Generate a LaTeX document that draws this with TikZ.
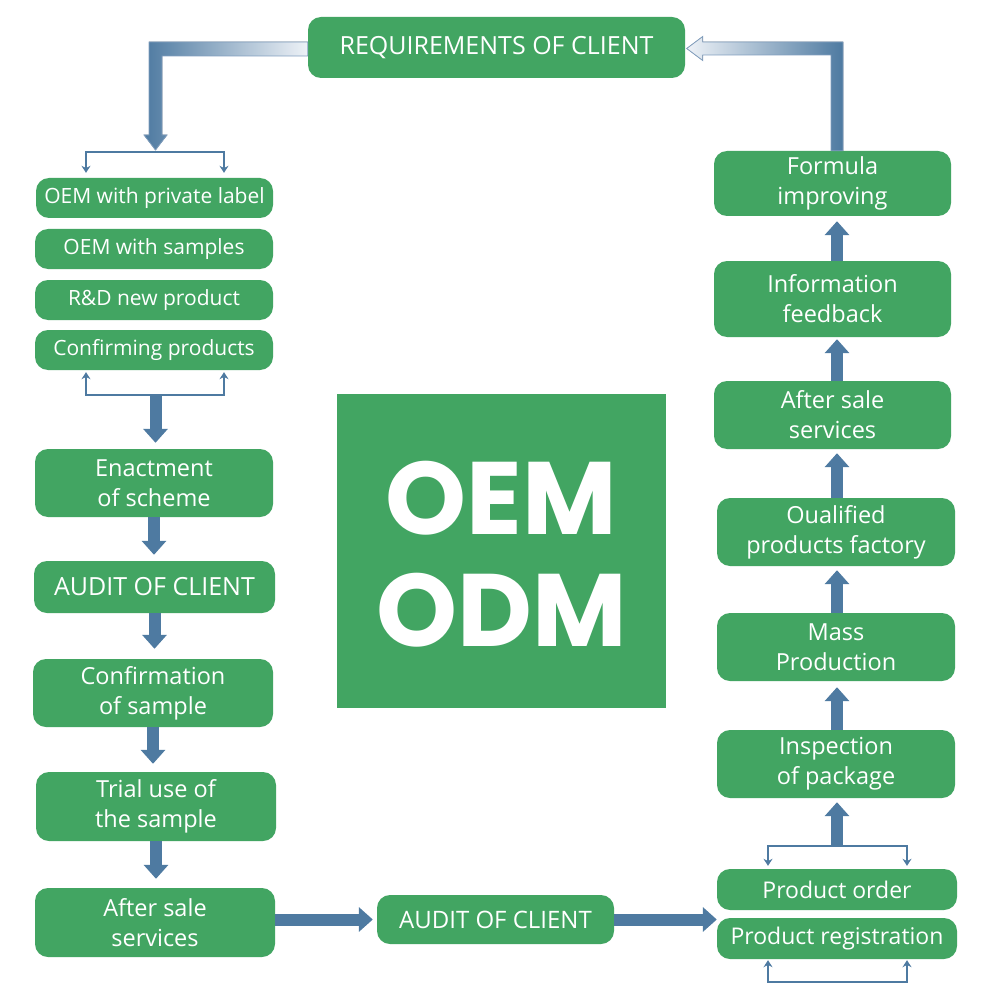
\documentclass[tikz,border=0pt]{standalone}
\usepackage{fontspec}
\setmainfont{Open Sans}
\newfontfamily\bigfont{Poppins}
\usetikzlibrary{arrows.meta,calc}
\definecolor{boxgreen}{RGB}{66,165,98}
\definecolor{arrowblue}{RGB}{78,122,161}
\definecolor{arrowlight}{RGB}{238,242,247}
\definecolor{arrowedge}{RGB}{128,158,190}
\begin{document}
\begin{tikzpicture}[x=1pt,y=-1pt,
  gbox/.style 2 args={fill=boxgreen,rounded corners=13pt,text=white,align=center,inner sep=0pt,minimum width=#1,minimum height=#2},
  smalltxt/.style={font=\fontsize{21}{25}\selectfont},
  midtxt/.style={font=\fontsize{23}{28}\selectfont},
  twotxt/.style={font=\fontsize{23.5}{30}\selectfont},
  captxt/.style={font=\fontsize{25}{30}\selectfont},
  bigtxt/.style={text=white,inner sep=0pt,font=\bigfont\bfseries\fontsize{103}{112}\selectfont},
  bigarrow/.style={draw=arrowblue,line width=12pt,-{Triangle[width=24pt,length=14pt]}},
  thinarrow/.style={draw=arrowblue,line width=2pt,{Stealth[width=9pt,length=7pt]}-{Stealth[width=9pt,length=7pt]}}
]
\useasboundingbox[fill=white] (0,0) rectangle (1000,1000);

% top node
\node[gbox={377pt}{61pt},captxt] (req) at (496.5,47.5) {REQUIREMENTS OF CLIENT};

% left column
\node[gbox={237pt}{40pt},smalltxt] (priv) at (154.5,198) {OEM with private label};
\node[gbox={238pt}{40pt},smalltxt] (samp) at (154,249) {OEM with samples};
\node[gbox={238pt}{40pt},smalltxt] (rd) at (154,300) {R\&D new product};
\node[gbox={238pt}{40pt},smalltxt] (conf) at (154,350) {Confirming products};
\node[gbox={238pt}{68pt},twotxt] (enact) at (154,483) {Enactment\\of scheme};
\node[gbox={241pt}{52pt},captxt] (audita) at (154.5,587) {AUDIT OF CLIENT};
\node[gbox={240pt}{68pt},twotxt] (confs) at (153,693) {Confirmation\\of sample};
\node[gbox={240pt}{69pt},twotxt] (trial) at (156,806.5) {Trial use of\\the sample};
\node[gbox={240pt}{69pt},twotxt] (aftera) at (155,922.5) {After sale\\services};

% bottom middle
\node[gbox={237pt}{49pt},font=\fontsize{24}{28}\selectfont] (auditb) at (495.5,919.5) {AUDIT OF CLIENT};

% right column
\node[gbox={237pt}{65pt},twotxt] (formula) at (832.5,183.5) {Formula\\improving};
\node[gbox={237pt}{76pt},twotxt] (info) at (832.5,299) {Information\\feedback};
\node[gbox={237pt}{68pt},twotxt] (afterb) at (832.5,415) {After sale\\services};
\node[gbox={238pt}{68pt},twotxt] (qual) at (836,532) {Oualified\\products factory};
\node[gbox={238pt}{68pt},twotxt] (mass) at (836,647) {Mass\\Production};
\node[gbox={238pt}{68pt},twotxt] (insp) at (836,764) {Inspection\\of package};
\node[gbox={240pt}{41pt},midtxt] (order) at (837,889.5) {Product order};
\node[gbox={240pt}{41pt},midtxt] (reg) at (837,938.5) {Product registration};

% centre block
\node[fill=boxgreen,minimum width=329pt,minimum height=314pt,inner sep=0pt] (oem) at (501.5,551) {};
\node[bigtxt,anchor=base] (oemt) at ($(oem.center)+(0,-17)$) {OEM};
\node[bigtxt,anchor=base] (odmt) at ($(oem.center)+(0,95)$) {ODM};

% ---- top-left gradient arrow (req -> options) ----
\coordinate (tlc) at (155.5,49);
\coordinate (tltip) at (155.5,150);
\filldraw[draw=arrowedge,line width=0.8pt,left color=arrowblue,right color=arrowlight]
  ($(req.west)+(0,-5.5)$) -- ($(tlc)+(-6.5,-7)$) -- ($(tltip)+(-6.5,-15)$) -- ($(tltip)+(-11.5,-15)$)
  -- (tltip) -- ($(tltip)+(11.5,-15)$) -- ($(tltip)+(6.5,-15)$) -- ($(tlc)+(6.5,7)$)
  -- ($(req.west)+(0,8.5)$) -- cycle;

% ---- top-right gradient arrow (formula -> req) ----
\coordinate (trc) at (837,48.5);
\coordinate (trtip) at ($(req.east)+(1.5,1)$);
\filldraw[draw=arrowedge,line width=0.8pt,left color=arrowlight,right color=arrowblue]
  ($(formula.north)+(-1.5,0)$) -- ($(trc)+(-6,6.5)$) -- ($(trtip)+(16,6.5)$) -- ($(trtip)+(16,12)$)
  -- (trtip) -- ($(trtip)+(16,-12)$) -- ($(trtip)+(16,-6.5)$) -- ($(trc)+(6,-6.5)$)
  -- ($(formula.north)+(10.5,0)$) -- cycle;

% ---- brackets ----
\coordinate (tbL) at (86,152);
\coordinate (tbR) at (224,152);
\draw[thinarrow,shorten <=5pt,shorten >=5pt] (tbL |- priv.north) -- (tbL) -- (tbR) -- (tbR |- priv.north);
\coordinate (cbL) at (86,395);
\coordinate (cbR) at (224,395);
\coordinate (cbM) at (155.5,395);
\draw[thinarrow,shorten <=2pt,shorten >=2pt] (cbL |- conf.south) -- (cbL) -- (cbR) -- (cbR |- conf.south);

\coordinate (obL) at (768,846);
\coordinate (obR) at (907,846);
\coordinate (obM) at (837,846);
\draw[thinarrow,shorten <=3pt,shorten >=3pt] (obL |- order.north) -- (obL) -- (obR) -- (obR |- order.north);
\coordinate (rbL) at (768,982);
\coordinate (rbR) at (907,982);
\draw[thinarrow,shorten <=1pt,shorten >=1pt] (rbL |- reg.south) -- (rbL) -- (rbR) -- (rbR |- reg.south);

% ---- left column arrows ----
\draw[bigarrow,shorten >=6pt] (cbM) -- (cbM |- enact.north);
\draw[bigarrow,shorten >=6pt] (enact.south) -- (enact.south |- audita.north);
\draw[bigarrow,shorten >=10pt] (audita.south) -- (audita.south |- confs.north);
\draw[bigarrow,shorten >=8pt] (confs.south) -- (confs.south |- trial.north);
\draw[bigarrow,shorten >=9pt] (trial.south) -- (trial.south |- aftera.north);

% ---- bottom arrows ----
\draw[bigarrow,shorten >=4pt] (aftera.east |- auditb.west) -- (auditb.west);
\coordinate (orj) at ($(order.south west)!0.5!(reg.north west)$);
\draw[bigarrow] (auditb.east) -- (orj |- auditb.east);

% ---- right column arrows ----
\coordinate (col) at (837,0);
\draw[bigarrow,shorten >=4pt] (obM) -- (col |- insp.south);
\draw[bigarrow,shorten >=6pt] (col |- insp.north) -- (col |- mass.south);
\draw[bigarrow,shorten >=4pt] (col |- mass.north) -- (col |- qual.south);
\draw[bigarrow,shorten >=4pt] (col |- qual.north) -- (col |- afterb.south);
\draw[bigarrow,shorten >=2pt] (col |- afterb.north) -- (col |- info.south);
\draw[bigarrow,shorten >=5pt] (col |- info.north) -- (col |- formula.south);
\end{tikzpicture}
\end{document}
